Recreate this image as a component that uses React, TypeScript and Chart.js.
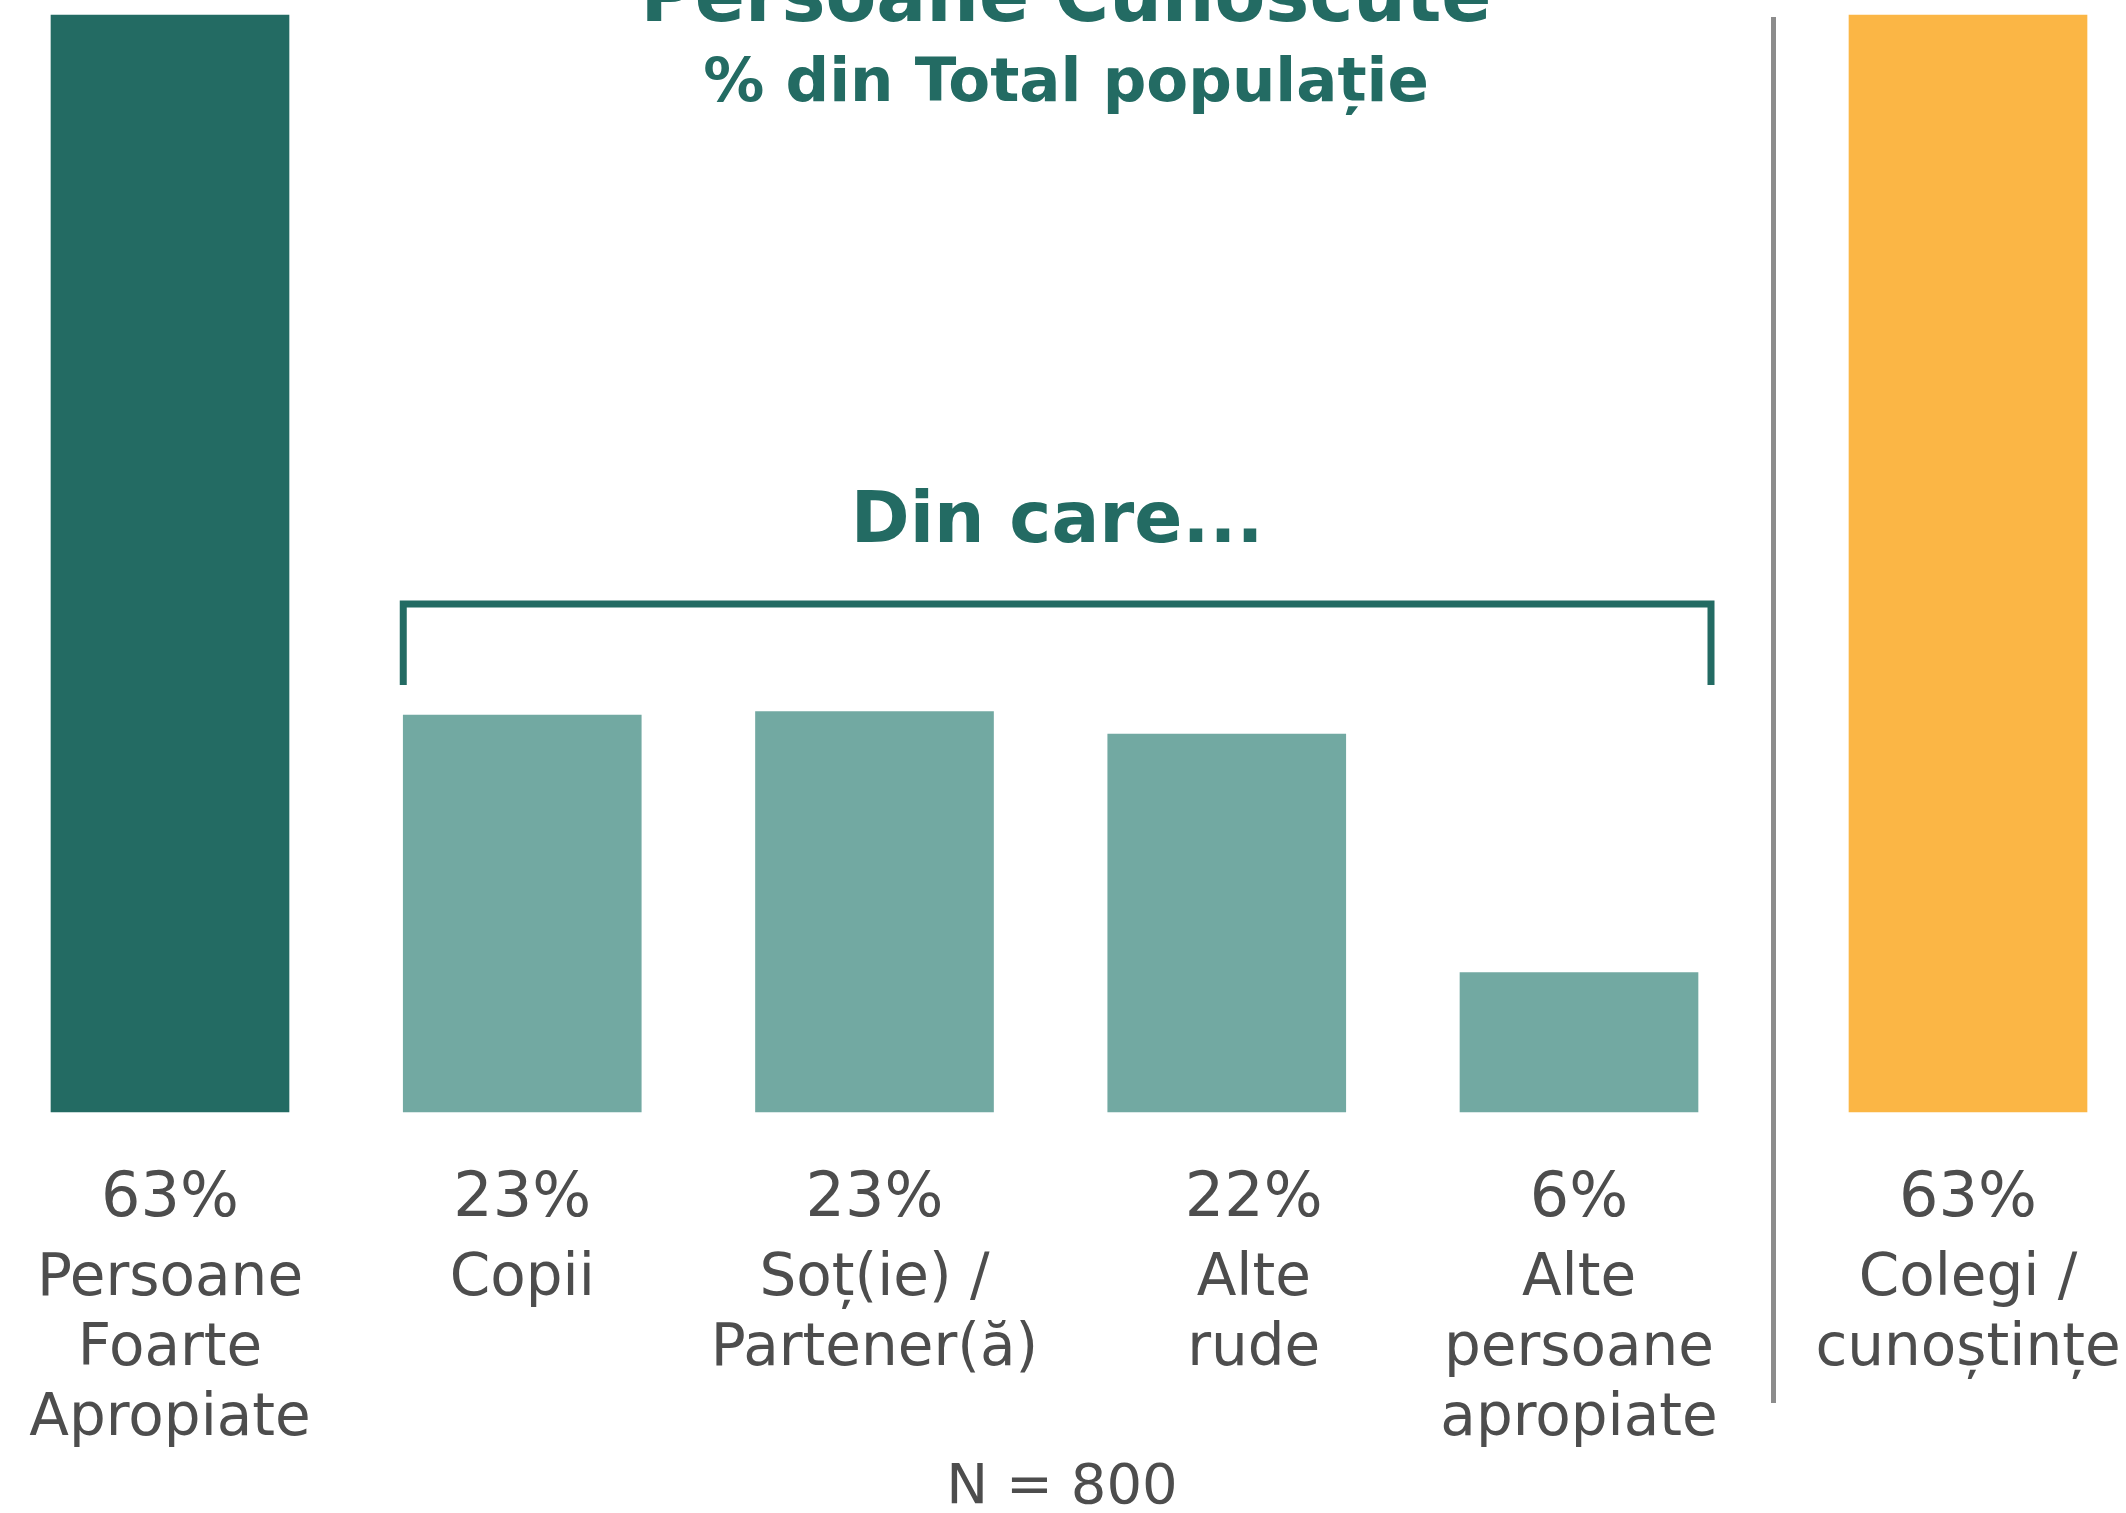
import React, { useEffect, useRef } from "react";
import { Chart, registerables } from "chart.js";

Chart.register(...registerables);

// ---- Data ----
const TITLE = "Persoane Cunoscute";
const SUBTITLE = "% din Total populație";
const GROUP_LABEL = "Din care...";
const SAMPLE_NOTE = "N = 800";

const categories: string[][] = [
  ["Persoane", "Foarte", "Apropiate"],
  ["Copii"],
  ["Soț(ie) /", "Partener(ă)"],
  ["Alte", "rude"],
  ["Alte", "persoane", "apropiate"],
  ["Colegi /", "cunoștințe"],
];
// bar heights as drawn in the picture
const barValues = [63, 22.8, 23.0, 21.7, 8.0, 63];
// printed percentages
const valueLabels = ["63%", "23%", "23%", "22%", "6%", "63%"];
const barColors = ["#236B63", "#72A9A2", "#72A9A2", "#72A9A2", "#72A9A2", "#FBB645"];
// bars of the main panel; the rest sit in the panel right of the separator
const mainCount = 5;
// indices of bars covered by the "Din care..." bracket
const groupStart = 1;
const groupEnd = 4;

// ---- Styling ----
const DARK = "#236B63";
const TEXT = "#4D4D4D";
const FONT = '"DejaVu Sans", sans-serif';
const W = 2126;
const H = 1513;
const RIGHT_PANEL_X = 1780;
// the label block under "Alte rude" sits slightly right of its bar in the original
const labelNudge: Record<number, number> = { 3: 27 };

function drawBarLabels(chart: any, offset: number) {
  const { ctx, chartArea } = chart;
  const bars = chart.getDatasetMeta(0).data;
  const bottom = chartArea.bottom;
  ctx.save();
  ctx.textAlign = "center";
  ctx.textBaseline = "alphabetic";
  ctx.fillStyle = TEXT;
  bars.forEach((bar: any, k: number) => {
    const i = k + offset;
    const x = bar.x + (labelNudge[i] || 0);
    ctx.font = `62px ${FONT}`;
    ctx.fillText(valueLabels[i], x, bottom + 104);
    ctx.font = `58px ${FONT}`;
    categories[i].forEach((line, j) => {
      ctx.fillText(line, x, bottom + 183 + j * 70);
    });
  });
  ctx.restore();
}

const mainOverlay = {
  id: "mainOverlay",
  afterDraw(chart: any) {
    const { ctx } = chart;
    const bars = chart.getDatasetMeta(0).data;
    const cx = chart.width / 2 + 3;
    ctx.save();
    ctx.textAlign = "center";
    ctx.textBaseline = "alphabetic";

    ctx.fillStyle = DARK;
    ctx.font = `bold 74px ${FONT}`;
    ctx.fillText(TITLE, cx, 21);
    ctx.font = `bold 61px ${FONT}`;
    ctx.fillText(SUBTITLE, cx, 101);

    // bracket
    const b0 = bars[groupStart];
    const b1 = bars[groupEnd];
    const left = b0.x - b0.width / 2;
    const right = b1.x + b1.width / 2 + 13;
    ctx.strokeStyle = DARK;
    ctx.lineWidth = 7;
    ctx.lineCap = "butt";
    ctx.lineJoin = "miter";
    ctx.beginPath();
    ctx.moveTo(left, 685);
    ctx.lineTo(left, 604);
    ctx.lineTo(right, 604);
    ctx.lineTo(right, 685);
    ctx.stroke();

    ctx.fillStyle = DARK;
    ctx.font = `bold 71px ${FONT}`;
    ctx.fillText(GROUP_LABEL, (left + right) / 2, 542);

    // separator between the two panels
    const last = bars[bars.length - 1];
    const sepX = (last.x + last.width / 2 + RIGHT_PANEL_X + 69) / 2;
    ctx.strokeStyle = "#8C8C8C";
    ctx.lineWidth = 5;
    ctx.beginPath();
    ctx.moveTo(sepX, 17);
    ctx.lineTo(sepX, 1403);
    ctx.stroke();

    ctx.fillStyle = TEXT;
    ctx.font = `56px ${FONT}`;
    ctx.fillText(SAMPLE_NOTE, cx - 4, 1503);
    ctx.restore();

    drawBarLabels(chart, 0);
  },
};

const sideOverlay = {
  id: "sideOverlay",
  afterDraw(chart: any) {
    drawBarLabels(chart, mainCount);
  },
};

function makeChart(canvas: HTMLCanvasElement, from: number, to: number, padding: any, offset: boolean, plugin: any) {
  return new Chart(canvas, {
    type: "bar",
    data: {
      labels: categories.slice(from, to).map((c) => c.join(" ")),
      datasets: [
        {
          data: barValues.slice(from, to),
          backgroundColor: barColors.slice(from, to),
          barThickness: 238,
          borderWidth: 0,
          clip: false as any,
        },
      ],
    },
    options: {
      responsive: false,
      animation: false,
      devicePixelRatio: 1,
      layout: { padding },
      plugins: { legend: { display: false }, tooltip: { enabled: false }, title: { display: false } },
      scales: {
        x: { type: "category", display: false, offset, grid: { display: false } },
        y: { display: false, min: 0, max: 63 },
      },
    },
    plugins: [plugin],
  });
}

export default function App() {
  const mainRef = useRef<HTMLCanvasElement | null>(null);
  const sideRef = useRef<HTMLCanvasElement | null>(null);
  useEffect(() => {
    document.body.style.margin = "0";
    const main = makeChart(
      mainRef.current!,
      0,
      mainCount,
      { left: 170, right: W - 1579, top: 15, bottom: H - 1112 },
      false,
      mainOverlay
    );
    const side = makeChart(
      sideRef.current!,
      mainCount,
      categories.length,
      { left: 69, right: W - RIGHT_PANEL_X - 69 - 238, top: 15, bottom: H - 1112 },
      true,
      sideOverlay
    );
    return () => {
      main.destroy();
      side.destroy();
    };
  }, []);
  return (
    <div style={{ position: "relative", width: W, height: H, background: "#fff" }}>
      <canvas ref={mainRef} width={W} height={H} style={{ position: "absolute", left: 0, top: 0, display: "block" }} />
      <canvas
        ref={sideRef}
        width={W - RIGHT_PANEL_X}
        height={H}
        style={{ position: "absolute", left: RIGHT_PANEL_X, top: 0, display: "block" }}
      />
    </div>
  );
}
